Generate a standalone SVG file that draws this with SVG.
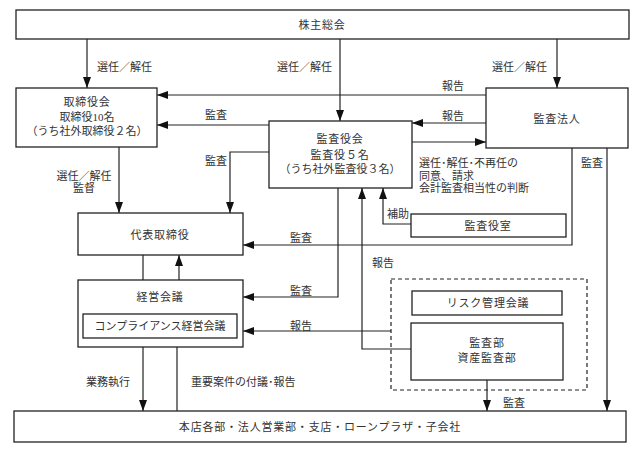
<svg xmlns="http://www.w3.org/2000/svg" width="642" height="454" viewBox="0 0 642 454">
<defs>
<marker id="ah" markerUnits="userSpaceOnUse" markerWidth="12" markerHeight="9" refX="11" refY="4" orient="auto">
<path d="M0,0 L11,4 L0,8 z" fill="#111"/>
</marker>
<style>
.box{fill:#fff;stroke:#222;stroke-width:1.3}
.dash{fill:none;stroke:#222;stroke-width:1.2;stroke-dasharray:4,3}
.ln{fill:none;stroke:#222;stroke-width:1.2}
.ar{fill:none;stroke:#222;stroke-width:1.2;marker-end:url(#ah)}
text{font-family:"Liberation Serif","Noto Sans CJK JP",serif;font-size:11px;fill:#333;dominant-baseline:central}
.c{text-anchor:middle}
.n{letter-spacing:0.8px}
</style>
</defs>
<rect width="642" height="454" fill="#fff"/>

<g id="connectors">
<line class="ar" x1="87" y1="39" x2="87" y2="88"/>
<line class="ar" x1="340" y1="39" x2="340" y2="121"/>
<line class="ar" x1="557" y1="39" x2="557" y2="88"/>
<line class="ar" x1="486" y1="95" x2="157" y2="95"/>
<line class="ar" x1="269" y1="125" x2="157" y2="125"/>
<line class="ar" x1="486" y1="123" x2="412" y2="123"/>
<line class="ar" x1="412" y1="142" x2="486" y2="142"/>
<line class="ar" x1="119" y1="147" x2="119" y2="213"/>
<polyline class="ar" points="269,152 230,152 230,213"/>
<polyline class="ar" points="572,148 572,245 243,245"/>
<line class="ar" x1="607" y1="148" x2="607" y2="411"/>
<polyline class="ar" points="411,224 383,224 383,188"/>
<polyline class="ar" points="411,349 362,349 362,188"/>
<polyline class="ar" points="338,188 338,297 243,297"/>
<line class="ar" x1="391" y1="331" x2="243" y2="331"/>
<line class="ar" x1="487" y1="380" x2="487" y2="411"/>
<line class="ar" x1="179" y1="280" x2="179" y2="255"/>
<line class="ln" x1="143" y1="255" x2="143" y2="280"/>
<line class="ar" x1="143" y1="347" x2="143" y2="411"/>
<line class="ln" x1="177" y1="411" x2="177" y2="347"/>

<text x="97" y="67">選任／解任</text>
<text x="277" y="67">選任／解任</text>
<text x="492" y="67">選任／解任</text>
<text x="453" y="86" class="c">報告</text>
<text x="216" y="115" class="c">監査</text>
<text x="453" y="116" class="c">報告</text>
<text x="84" y="176" class="c">選任／解任</text>
<text x="84" y="188" class="c">監督</text>
<text x="216" y="161" class="c">監査</text>
<text x="419" y="163">選任･解任･不再任の</text>
<text x="419" y="176">同意、請求</text>
<text x="419" y="188">会計監査相当性の判断</text>
<text x="592" y="163" class="c">監査</text>
<text x="387" y="214">補助</text>
<text x="301" y="238" class="c">監査</text>
<text x="383" y="263" class="c">報告</text>
<text x="301" y="291" class="c">監査</text>
<text x="301" y="326" class="c">報告</text>
<text x="108" y="382" class="c">業務執行</text>
<text x="191" y="382">重要案件の付議･報告</text>
<text x="514" y="403" class="c">監査</text>
</g>

<g id="kabunushi">
<rect class="box" x="16" y="10" width="613" height="29"/>
<text x="322" y="25" class="c n">株主総会</text>
</g>
<g id="torishimariyakukai">
<rect class="box" x="16" y="88" width="141" height="59"/>
<text x="87" y="102" class="c n">取締役会</text>
<text x="87" y="117" class="c">取締役10名</text>
<text x="87" y="131" class="c">（うち社外取締役２名）</text>
</g>
<g id="kansayakukai">
<rect class="box" x="269" y="121" width="143" height="67"/>
<text x="340" y="139" class="c n">監査役会</text>
<text x="340" y="155" class="c n">監査役５名</text>
<text x="340" y="169" class="c">（うち社外監査役３名）</text>
</g>
<g id="kansahojin">
<rect class="box" x="486" y="88" width="142" height="60"/>
<text x="557" y="119" class="c n">監査法人</text>
</g>
<g id="daihyo">
<rect class="box" x="78" y="213" width="165" height="42"/>
<text x="160" y="235" class="c n">代表取締役</text>
</g>
<g id="kansayakushitsu">
<rect class="box" x="411" y="214" width="155" height="23"/>
<text x="488" y="226" class="c n">監査役室</text>
</g>
<g id="keiei">
<rect class="box" x="78" y="280" width="165" height="67"/>
<text x="160" y="297" class="c n">経営会議</text>
<rect class="box" x="83" y="314" width="154" height="24"/>
<text x="160" y="326" class="c">コンプライアンス経営会議</text>
</g>
<g id="dashgroup">
<rect class="dash" x="391" y="279" width="196" height="111"/>
</g>
<g id="risk">
<rect class="box" x="412" y="291" width="150" height="24"/>
<text x="488" y="303" class="c n">リスク管理会議</text>
</g>
<g id="kansabu">
<rect class="box" x="411" y="323" width="152" height="57"/>
<text x="487" y="343" class="c n">監査部</text>
<text x="487" y="358" class="c n">資産監査部</text>
</g>
<g id="honten">
<rect class="box" x="14" y="411" width="612" height="31"/>
<text x="320" y="427" class="c n">本店各部・法人営業部・支店・ローンプラザ・子会社</text>
</g>
</svg>
